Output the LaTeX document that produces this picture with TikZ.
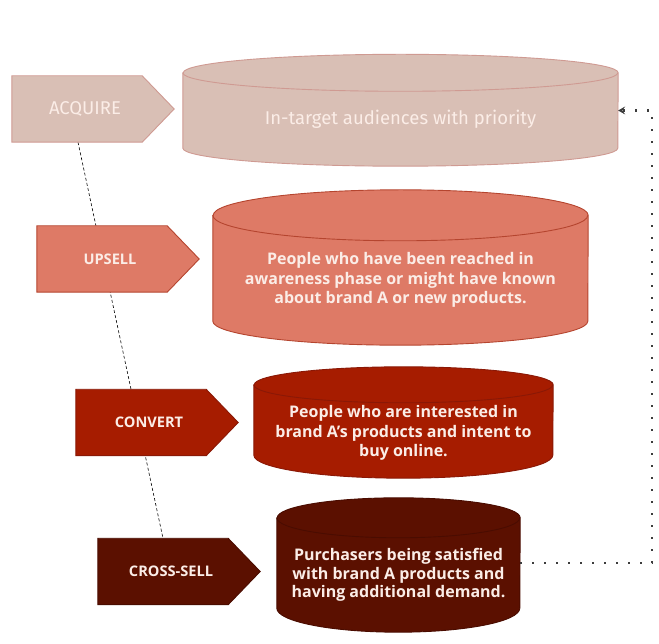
\documentclass[tikz,border=0pt]{standalone}
\usepackage{fontspec}
\setmainfont{Open Sans}
\newfontfamily\firafont{Fira Sans}
\usetikzlibrary{arrows.meta, positioning, backgrounds}

\definecolor{onefill}{HTML}{D9BFB5}
\definecolor{oneline}{HTML}{CF9A92}
\definecolor{twofill}{HTML}{DE7A66}
\definecolor{twoline}{HTML}{B5452F}
\definecolor{threefill}{HTML}{A61C00}
\definecolor{threeline}{HTML}{8A1806}
\definecolor{fourfill}{HTML}{5B1000}
\definecolor{fourline}{HTML}{4A0C00}
\definecolor{labeltext}{HTML}{FBEDE7}
\definecolor{loopgray}{HTML}{3C3C3C}

\begin{document}
\begin{tikzpicture}[x=1pt, y=1pt,
                    stage/.style={minimum width=146pt, minimum height=66pt, inner sep=0pt,
                                  text=labeltext, font=\bfseries\fontsize{14.6}{16}\selectfont},
                    tank/.style={minimum width=#1, inner sep=0pt},
                    tanktext/.style={align=center, text=labeltext, inner sep=0pt,
                                     font=\bfseries\fontsize{16}{19.5}\selectfont},
                    funnel/.style={draw=black, line width=0.6pt, dash pattern=on 3pt off 2.2pt},
                    loopback/.style={draw=loopgray, line width=2.2pt, dash pattern=on 2.2pt off 9.8pt,
                                     -{Stealth[length=7pt, width=8pt, inset=3pt, line width=0.6pt]}}
                    ]

  \useasboundingbox (0,0) rectangle (659,643);

  % stages on the left
  \node [stage, font=\firafont\fontsize{18.5}{20}\selectfont] (acq) at (85,534) {ACQUIRE};
  \node [stage] (ups) at (110,384)   {UPSELL};
  \node [stage] (con) at (149,220.5) {CONVERT};
  \node [stage] (crs) at (171,71.5)  {CROSS-SELL};

  % audience tanks
  \node [tank=435pt, minimum height=75pt]    (cyl1) at (400.5,532.5) {};
  \node [tank=375pt, minimum height=105.5pt] (cyl2) at (400.5,374.75) {};
  \node [tank=299pt, minimum height=70pt]    (cyl3) at (403.5,223) {};
  \node [tank=243pt, minimum height=90pt]    (cyl4) at (398.5,80) {};

  \node [tanktext, font=\firafont\fontsize{18.5}{20}\selectfont] (txt1) at ([yshift=-8.5pt]cyl1.center)
        {In-target audiences with priority};
  \node [tanktext] (txt2) at ([yshift=-12pt]cyl2.center)
        {People who have been reached in\\awareness phase or might have known\\about brand A or new products.};
  \node [tanktext] (txt3) at ([yshift=-13pt]cyl3.center)
        {People who are interested in\\brand A’s products and intent to\\buy online.};
  \node [tanktext, font=\bfseries\fontsize{16}{18.5}\selectfont] (txt4) at ([yshift=-12pt]cyl4.center)
        {Purchasers being satisfied\\with brand A products and\\having additional demand.};

  \begin{scope}[on background layer]
    \draw [funnel] ([xshift=-7pt]acq.south) -- ([xshift=-8pt]crs.north);

    \foreach \s/\c in {acq/one, ups/two, con/three, crs/four}
      \filldraw [fill=\c fill, draw=\c line, line width=0.9pt]
        (\s.north west) -- ([xshift=-16pt]\s.north east) -- ([xshift=16pt]\s.east)
        -- ([xshift=-16pt]\s.south east) -- (\s.south west) -- cycle;

    % top radius / bottom radius of each tank
    \foreach \t/\c/\rx/\ry/\rb in {cyl1/one/217.5/18.5/18, cyl2/two/187.5/25.5/24,
                                   cyl3/three/149.5/18/23, cyl4/four/121.5/20/24} {
      \filldraw [fill=\c fill, draw=\c line, line width=0.9pt]
        (\t.north west) -- (\t.south west)
        arc [start angle=180, end angle=360, x radius=\rx, y radius=\rb]
        -- (\t.north east)
        arc [start angle=0, end angle=180, x radius=\rx, y radius=\ry] -- cycle;
      \draw [draw=\c line, line width=0.9pt]
        (\t.north west) arc [start angle=180, end angle=360, x radius=\rx, y radius=\ry];
    }
  \end{scope}

  % back to the top
  \draw [loopback] (cyl4.east) -- ++(132pt,0) |- (cyl1.east);

\end{tikzpicture}
\end{document}
